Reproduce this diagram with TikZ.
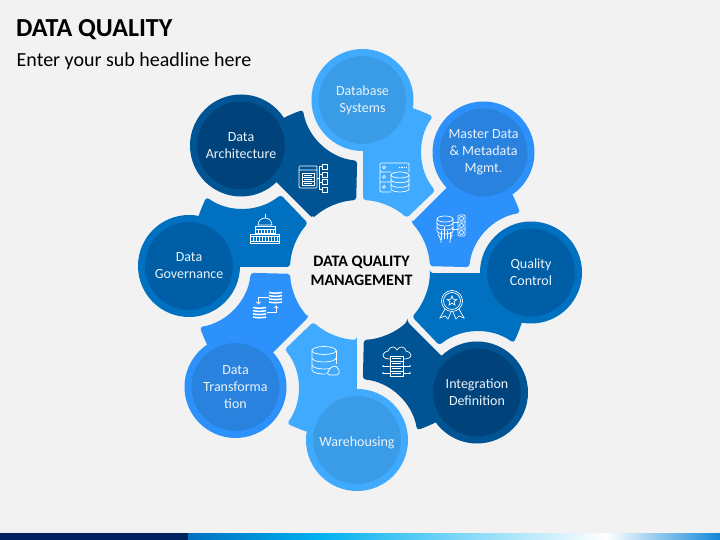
\documentclass[tikz,border=0pt]{standalone}
\usepackage{fontspec}
\setmainfont{Carlito}
\usepackage{xcolor}
\definecolor{paper}{HTML}{F2F2F2}
\definecolor{paleout}{HTML}{40AAFF}
\definecolor{palein}{HTML}{3A9BE6}
\definecolor{midout}{HTML}{2C91FB}
\definecolor{midin}{HTML}{2882DE}
\definecolor{strongout}{HTML}{0070C0}
\definecolor{strongin}{HTML}{005EA6}
\definecolor{deepout}{HTML}{005493}
\definecolor{deepin}{HTML}{00427A}
\definecolor{labelwhite}{HTML}{EAF3FB}
\tikzset{
	disc/.style 2 args={circle,draw=#1,fill=#2,line width=7pt,minimum size=95pt,inner sep=0pt,outer sep=0pt,
		align=center,text=labelwhite,font=\fontsize{14}{17}\selectfont,execute at begin node={\rule{0pt}{15pt}}},
	icon/.style={draw=white,line width=0.7pt},
	stripes/.style={draw=white,line width=1.5pt}
}
\newcommand{\petal}[2]{
	\begin{scope}[shift={(360,270)},rotate=#1]
		\fill[#2,rounded corners=3pt] (43.5:70) -- (45:170) arc[start angle=45,end angle=20.6,radius=170]
			arc[start angle=100.3,end angle=175.3,radius=61] -- (4.1:70)
			arc[start angle=4.1,end angle=43.5,radius=70] -- cycle;
	\end{scope}
}
\begin{document}
\begin{tikzpicture}[x=1pt,y=1pt]
	\fill[paper] (0,0) rectangle (720,540);
	\useasboundingbox (0,0) rectangle (720,540);
	% bottom bar
	\fill[color={rgb,255:red,0;green,32;blue,96}] (0,0) rectangle (188,6.7);
	\shade[left color=strongout,right color={rgb,255:red,0;green,176;blue,240}] (188,0) rectangle (318,6.7);
	\shade[left color={rgb,255:red,0;green,176;blue,240},right color=white] (318,0) rectangle (606,6.7);
	\shade[left color=white,right color={rgb,255:red,17;green,136;blue,216}] (606,0) rectangle (720,6.7);
	\node[anchor=west,inner sep=0pt,font=\fontsize{26}{30}\bfseries] (title) at (16,510.5) {DATA QUALITY};
	\node[anchor=west,inner sep=0pt,font=\fontsize{20}{24}\selectfont] (subtitle) at (16.5,479) {Enter your sub headline here};

	\petal{44}{paleout}
	\petal{-1}{midout}
	\petal{-46}{strongout}
	\petal{-91}{deepout}
	\petal{-136}{paleout}
	\petal{-181}{midout}
	\petal{134}{strongout}
	\petal{89}{deepout}

	\node[disc={paleout}{palein}] (database) at (362.5,440) {Database\\Systems};
	\node[disc={midout}{midin}] (master) at (483.5,387.5) {Master Data\\\& Metadata\\Mgmt.};
	\node[disc={strongout}{strongin}] (control) at (531,267.5) {Quality\\Control};
	\node[disc={deepout}{deepin}] (integration) at (477,147.5) {Integration\\Definition};
	\node[disc={paleout}{palein}] (warehouse) at (357,100) {Warehousing};
	\node[disc={midout}{midin}] (transform) at (235.5,153) {Data\\Transforma\\tion};
	\node[disc={strongout}{strongin}] (governance) at (189,274) {Data\\Governance};
	\node[disc={deepout}{deepin}] (architecture) at (241,394.5) {Data\\Architecture};

	\node[align=center,inner sep=0pt,font=\fontsize{16}{19}\bfseries] (hub) at (361.5,269.5) {DATA QUALITY\\MANAGEMENT};

	% server and database
	\begin{scope}[shift={(380,348)}]
		\draw[icon,rounded corners=1pt] (11,20) -- (0,20) -- (0,29) -- (29,29) -- (29,20) (0,20) -- (0,0) -- (11,0) (0,10) -- (11,10);
		\draw[icon] (4,24.5) circle (1.5) (4,15) circle (1.5) (4,5) circle (1.5);
		\draw[icon,densely dotted] (19,25) -- (27,25);
		\draw[icon] (20,17) ellipse [x radius=9,y radius=3];
		\draw[icon] (11,17) -- (11,3) arc[start angle=180,end angle=360,x radius=9,y radius=3] -- (29,17);
		\draw[icon] (11,12.3) arc[start angle=180,end angle=360,x radius=9,y radius=3];
		\draw[icon] (11,7.6) arc[start angle=180,end angle=360,x radius=9,y radius=3];
	\end{scope}
	% stack, hand and column
	\begin{scope}[shift={(437,297)}]
		\draw[icon] (8,24) ellipse [x radius=8,y radius=3];
		\draw[icon] (0,24) -- (0,12) arc[start angle=180,end angle=360,x radius=8,y radius=3] -- (16,24);
		\draw[icon] (0,20) arc[start angle=180,end angle=360,x radius=8,y radius=3];
		\draw[icon] (0,16) arc[start angle=180,end angle=360,x radius=8,y radius=3];
		\draw[icon] (4,0) -- (4,3) -- (1,9) (13,0) -- (13,3) -- (15,8) -- (15,11);
		\draw[icon] (4,3) -- (4,12) (7,4) -- (7,16) (10,4) -- (10,12) (13,4) -- (13,11);
		\draw[icon,rounded corners=1pt] (21,7) rectangle (28,28) (21,14) -- (28,14) (21,21) -- (28,21);
		\draw[icon] (24.5,10.5) circle (2) (24.5,17.5) circle (2) (24.5,24.5) circle (2);
		\draw[icon] (16,21) -- (21,21) (15,14) -- (21,14);
	\end{scope}
	% ribbon
	\begin{scope}[shift={(440,221)}]
		\draw[icon] (12,18) circle (10.5) (12,18) circle (8.5);
		\draw[icon,shift={(12,18)}] (90:5) -- (126:2.2) -- (162:5) -- (198:2.2) -- (234:5) -- (270:2.2) -- (306:5) -- (342:2.2) -- (18:5) -- (54:2.2) -- cycle;
		\draw[icon] (5,10) -- (0,1) -- (5,3) -- (8,0) -- (11,7);
		\draw[icon] (19,10) -- (24,1) -- (19,3) -- (16,0) -- (13,7);
	\end{scope}
	% cloud and rack
	\begin{scope}[shift={(382,164)}]
		\draw[icon] (8,17) to[out=180,in=270] (1,21) to[out=90,in=200] (6,25) to[out=80,in=180] (11,29) to[out=0,in=120] (15,26)
			to[out=60,in=180] (20,29) to[out=0,in=100] (24,25) to[out=-20,in=90] (29,21) to[out=270,in=0] (21,17);
		\draw[icon] (8,0) rectangle (21,20) (8,15) -- (21,15) (8,10) -- (21,10) (8,5) -- (21,5);
		\draw[icon] (10,17.5) -- (19,17.5) (10,12.5) -- (19,12.5) (10,7.5) -- (19,7.5) (10,2.5) -- (19,2.5);
		\draw[icon] (8,10) -- (1,10) (21,10) -- (28,10) (8,3) -- (1,3) (21,3) -- (28,3);
		\fill[white] (1,10) circle (0.9) (28,10) circle (0.9) (1,3) circle (0.9) (28,3) circle (0.9);
	\end{scope}
	% database with cloud
	\begin{scope}[shift={(312,165)}]
		\draw[icon] (12,24.5) ellipse [x radius=12,y radius=4];
		\draw[icon] (0,24.5) -- (0,5) arc[start angle=180,end angle=285,x radius=12,y radius=4];
		\draw[icon] (24,24.5) -- (24,11);
		\draw[icon] (0,17) arc[start angle=180,end angle=360,x radius=12,y radius=4];
		\draw[icon] (0,10) arc[start angle=180,end angle=300,x radius=12,y radius=4];
		\draw[icon] (18,0) -- (25,0) to[out=0,in=-70] (27,5) to[out=110,in=30] (21,8.5) to[out=210,in=80] (17,5) to[out=260,in=90] (15.5,2) to[out=270,in=180] (18,0);
	\end{scope}
	% two stacks with arrows
	\begin{scope}[shift={(253,221)}]
		\draw[stripes] (16,26.5) to[bend right=10] (29,26.5) (16,23.3) to[bend right=10] (29,23.3) (16,20.1) to[bend right=10] (29,20.1) (16,16.9) to[bend right=10] (29,16.9);
		\draw[stripes] (0,11.5) to[bend right=10] (13,11.5) (0,8.3) to[bend right=10] (13,8.3) (0,5.1) to[bend right=10] (13,5.1) (0,1.9) to[bend right=10] (13,1.9);
		\draw[->,draw=white,line width=0.9pt] (15.5,21.5) -- (5.5,21.5) -- (5.5,14.5);
		\draw[->,draw=white,line width=0.9pt] (13.5,6.5) -- (23,6.5) -- (23,13.5);
	\end{scope}
	% capitol
	\begin{scope}[shift={(250,297)}]
		\draw[icon] (15,25) -- (15,29);
		\draw[icon] (8,18) arc[start angle=180,end angle=0,radius=7] -- cycle;
		\draw[icon] (5,10) rectangle (25,17) (5,14) -- (25,14);
		\draw[icon] (0,0) rectangle (29,9) (0,2) -- (29,2) (0,7) -- (29,7);
		\draw[icon] (8,10) -- (8,14) (11,10) -- (11,14) (14,10) -- (14,14) (17,10) -- (17,14) (20,10) -- (20,14) (23,10) -- (23,14);
		\draw[icon] (3,2) -- (3,7) (6,2) -- (6,7) (9,2) -- (9,7) (12,2) -- (12,7) (15,2) -- (15,7) (18,2) -- (18,7) (21,2) -- (21,7) (24,2) -- (24,7) (27,2) -- (27,7);
	\end{scope}
	% panel and tree
	\begin{scope}[shift={(299,348)}]
		\draw[icon,rounded corners=1pt] (0,4) rectangle (18,26) (0,22) -- (18,22);
		\draw[icon] (3,7) rectangle (15,19) (3,15) -- (15,15) (3,11) -- (15,11);
		\draw[icon] (5,13) -- (13,13) (5,17) -- (13,17) (5,9) -- (13,9);
		\draw[icon] (18,14) -- (20,14) (20,2.5) -- (20,25.5) (20,25.5) -- (23,25.5) (20,17.5) -- (23,17.5) (20,10) -- (23,10) (20,2.5) -- (23,2.5);
		\draw[icon] (23,23) rectangle (28,28) (23,15) rectangle (28,20) (23,7.5) rectangle (28,12.5) (23,0) rectangle (28,5);
	\end{scope}
\end{tikzpicture}
\end{document}
